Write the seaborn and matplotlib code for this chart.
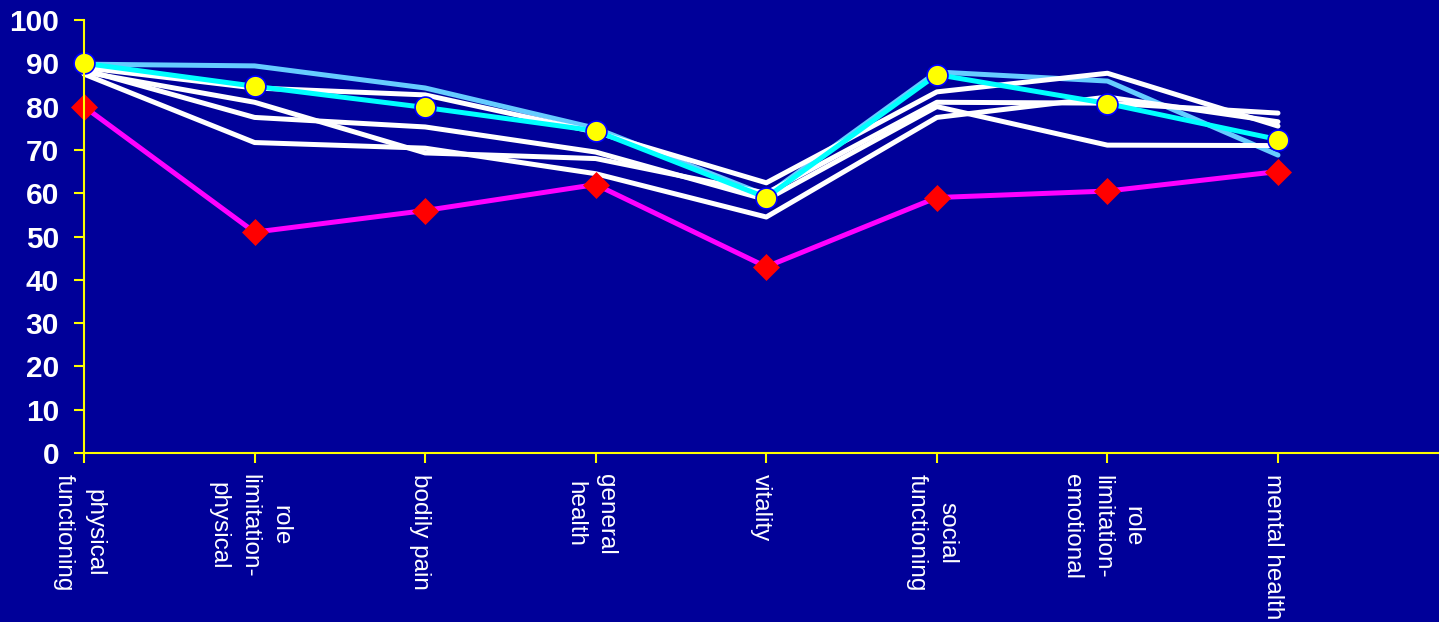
import matplotlib
matplotlib.use("Agg")
import matplotlib.pyplot as plt
import seaborn as sns
import pandas as pd

# SF-36 domains along the x axis
domains = [
    "physical\nfunctioning",
    "role\nlimitation-\nphysical",
    "bodily pain",
    "general\nhealth",
    "vitality",
    "social\nfunctioning",
    "role\nlimitation-\nemotional",
    "mental health",
]

# reference populations (white lines)
ref_a = [89.0, 84.3, 82.7, 74.1, 62.4, 83.4, 87.7, 75.5]
ref_b = [88.0, 81.0, 69.3, 68.0, 60.0, 81.0, 80.8, 78.5]
ref_c = [88.5, 77.5, 75.3, 69.5, 58.5, 80.0, 71.1, 71.0]
ref_d = [87.5, 71.7, 70.4, 64.5, 54.5, 77.5, 82.2, 76.5]
# light blue comparison group
group_light = [89.8, 89.4, 84.3, 75.0, 59.5, 88.0, 85.9, 68.8]
# cyan line with yellow circles
group_cyan = [90.0, 84.7, 79.8, 74.4, 59.0, 87.4, 80.7, 72.4]
# magenta line with red diamonds
group_patients = [80.0, 51.0, 56.0, 62.0, 43.0, 59.0, 60.5, 65.0]

y_ticks = [0, 10, 20, 30, 40, 50, 60, 70, 80, 90, 100]

BG = "#000099"
AXIS = "#FFFF00"

sns.set_theme(style="white")
plt.rcParams["font.family"] = ["Liberation Sans", "DejaVu Sans"]

UNIT = 170.57          # pixels per category step
LABEL_SHIFT = 0.03     # labels sit slightly left of their ticks
X_MIN, X_MAX = -LABEL_SHIFT, 1355 / UNIT

fig = plt.figure(figsize=(14.39, 6.22), dpi=100, facecolor=BG)
left_px = 84 - LABEL_SHIFT * UNIT
ax = fig.add_axes([left_px / 1439, 1 - 453 / 622, 1 - left_px / 1439, 433 / 622])
ax.set_facecolor(BG)

# axis frame: yellow left/bottom lines, the value axis placed at x = 0
for side in ("top", "right"):
    ax.spines[side].set_visible(False)
ax.spines["left"].set_position(("data", 0))
ax.spines["bottom"].set_bounds(0, X_MAX)
for side in ("left", "bottom"):
    ax.spines[side].set_color(AXIS)
    ax.spines[side].set_linewidth(1.5)

pos = list(range(len(domains)))

def draw(values, color, lw=3.6, **kw):
    df = pd.DataFrame({"x": pos, "y": values})
    sns.lineplot(data=df, x="x", y="y", ax=ax, color=color, linewidth=lw,
                 clip_on=False, legend=False, **kw)

draw(group_light, "#66CCFF")
for series in (ref_a, ref_b, ref_c, ref_d):
    draw(series, "#FFFFFF")
draw(group_cyan, "#00FFFF", marker="o", markersize=15,
     markerfacecolor="#FFFF00", markeredgecolor="#0000FF", markeredgewidth=1.2)
draw(group_patients, "#FF00FF", marker="D", markersize=13,
     markerfacecolor="#FF0000", markeredgecolor="#FF0000", markeredgewidth=0.5)

# tick marks on the categories; the rotated labels carried by minor ticks
ax.set_xticks(pos)
ax.set_xticklabels([])
ax.set_xticks([p - LABEL_SHIFT for p in pos], minor=True)
ax.set_xticklabels(domains, minor=True, rotation=-90, fontsize=17.5,
                   color="white", ha="center", va="top",
                   multialignment="center", linespacing=1.5)

ax.set_yticks(y_ticks)
ax.set_yticklabels([str(v) for v in y_ticks], fontsize=21.5, fontweight="bold",
                   color="white")
ax.set_xlim(X_MIN, X_MAX)
ax.set_ylim(0, 100)
ax.set_xlabel("")
ax.set_ylabel("")

ax.tick_params(axis="both", which="major", direction="out", color=AXIS,
               width=1.5, length=7, bottom=True, left=True)
ax.tick_params(axis="y", which="major", pad=11)
ax.tick_params(axis="x", which="minor", bottom=True, length=0, pad=15)
ax.grid(False)

fig.savefig("out.png", dpi=100, facecolor=BG)
